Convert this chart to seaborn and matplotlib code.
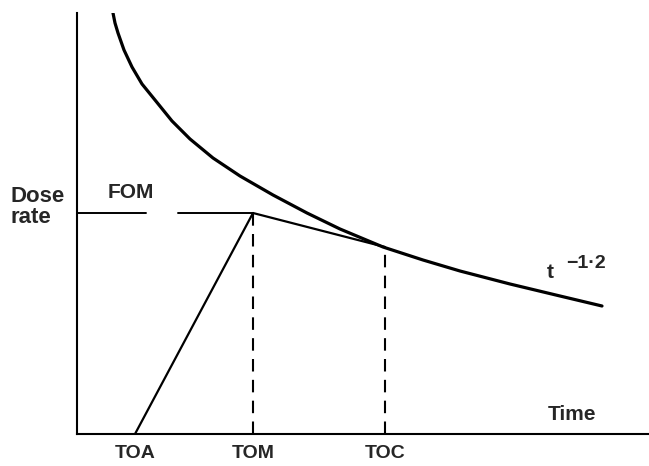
import pandas as pd
import matplotlib
matplotlib.use("Agg")
import matplotlib.pyplot as plt
import seaborn as sns

# -----------------------------
# Data (read off the schematic, arbitrary units)
# -----------------------------
# decay curve t^-1.2
curve_time = [36, 38, 41, 47, 55, 65, 78, 95, 113, 136, 163, 196, 230, 263, 306, 346, 383, 433, 483, 525]
curve_dose = [421, 411, 401, 384, 367, 350, 334, 313, 295, 276, 258, 239, 221, 205, 187, 174, 163, 150, 138, 128]

# actual dose rate: arrival -> maximum -> coincides with curve
event_names = ["TOA", "TOM", "TOC"]
event_time = [58, 176, 308]
event_dose = [0, 221, 187]

# FOM level line (two pieces with a gap for the label)
fom_level = 221
fom_pieces = [(0, 69), (101, 176)]

sns.set_style("white")
plt.rcParams['font.family'] = ['Liberation Sans', 'DejaVu Sans']

fig = plt.figure(figsize=(6.49, 4.66), dpi=100)
ax = fig.add_axes([77 / 649, 32 / 466, 572 / 649, 421 / 466])

curve = pd.DataFrame({'Time': curve_time, 'Dose': curve_dose})
sns.lineplot(data=curve, x='Time', y='Dose', color='black', lw=2.3, sort=False, ax=ax)

actual = pd.DataFrame({'Time': event_time, 'Dose': event_dose})
sns.lineplot(data=actual, x='Time', y='Dose', color='black', lw=1.6, sort=False, ax=ax)

for x0, x1 in fom_pieces:
    ax.plot([x0, x1], [fom_level, fom_level], color='black', lw=1.4)

# dashed drop lines at TOM and TOC
for t, d in zip(event_time[1:], event_dose[1:]):
    ax.plot([t, t], [0, d], color='black', lw=1.5, ls=(0, (6, 4)))

ax.set_xlim(0, 572)
ax.set_ylim(0, 421)

ax.set_xticks(event_time)
ax.set_xticklabels(event_names, fontsize=14, fontweight='bold')
ax.tick_params(axis='x', length=0, pad=8)
ax.set_yticks([])
ax.set_xlabel('')
ax.set_ylabel('')

for side in ['top', 'right']:
    ax.spines[side].set_visible(False)
for side in ['left', 'bottom']:
    ax.spines[side].set_color('black')
    ax.spines[side].set_linewidth(1.5)

ax.text(-66, 227, 'Dose\nrate', fontsize=16, fontweight='bold', ha='left', va='center',
        linespacing=1.05, clip_on=False)
ax.text(31, 241, 'FOM', fontsize=15, fontweight='bold', ha='left', va='center')
ax.text(495, 19, 'Time', fontsize=15, fontweight='bold', ha='center', va='center')
ax.text(470, 161, 't', fontsize=15, fontweight='bold', ha='left', va='center')
ax.text(489, 170, '\u22121\u00b72', fontsize=14, fontweight='bold', ha='left', va='center')

plt.savefig('out.png', dpi=100)
